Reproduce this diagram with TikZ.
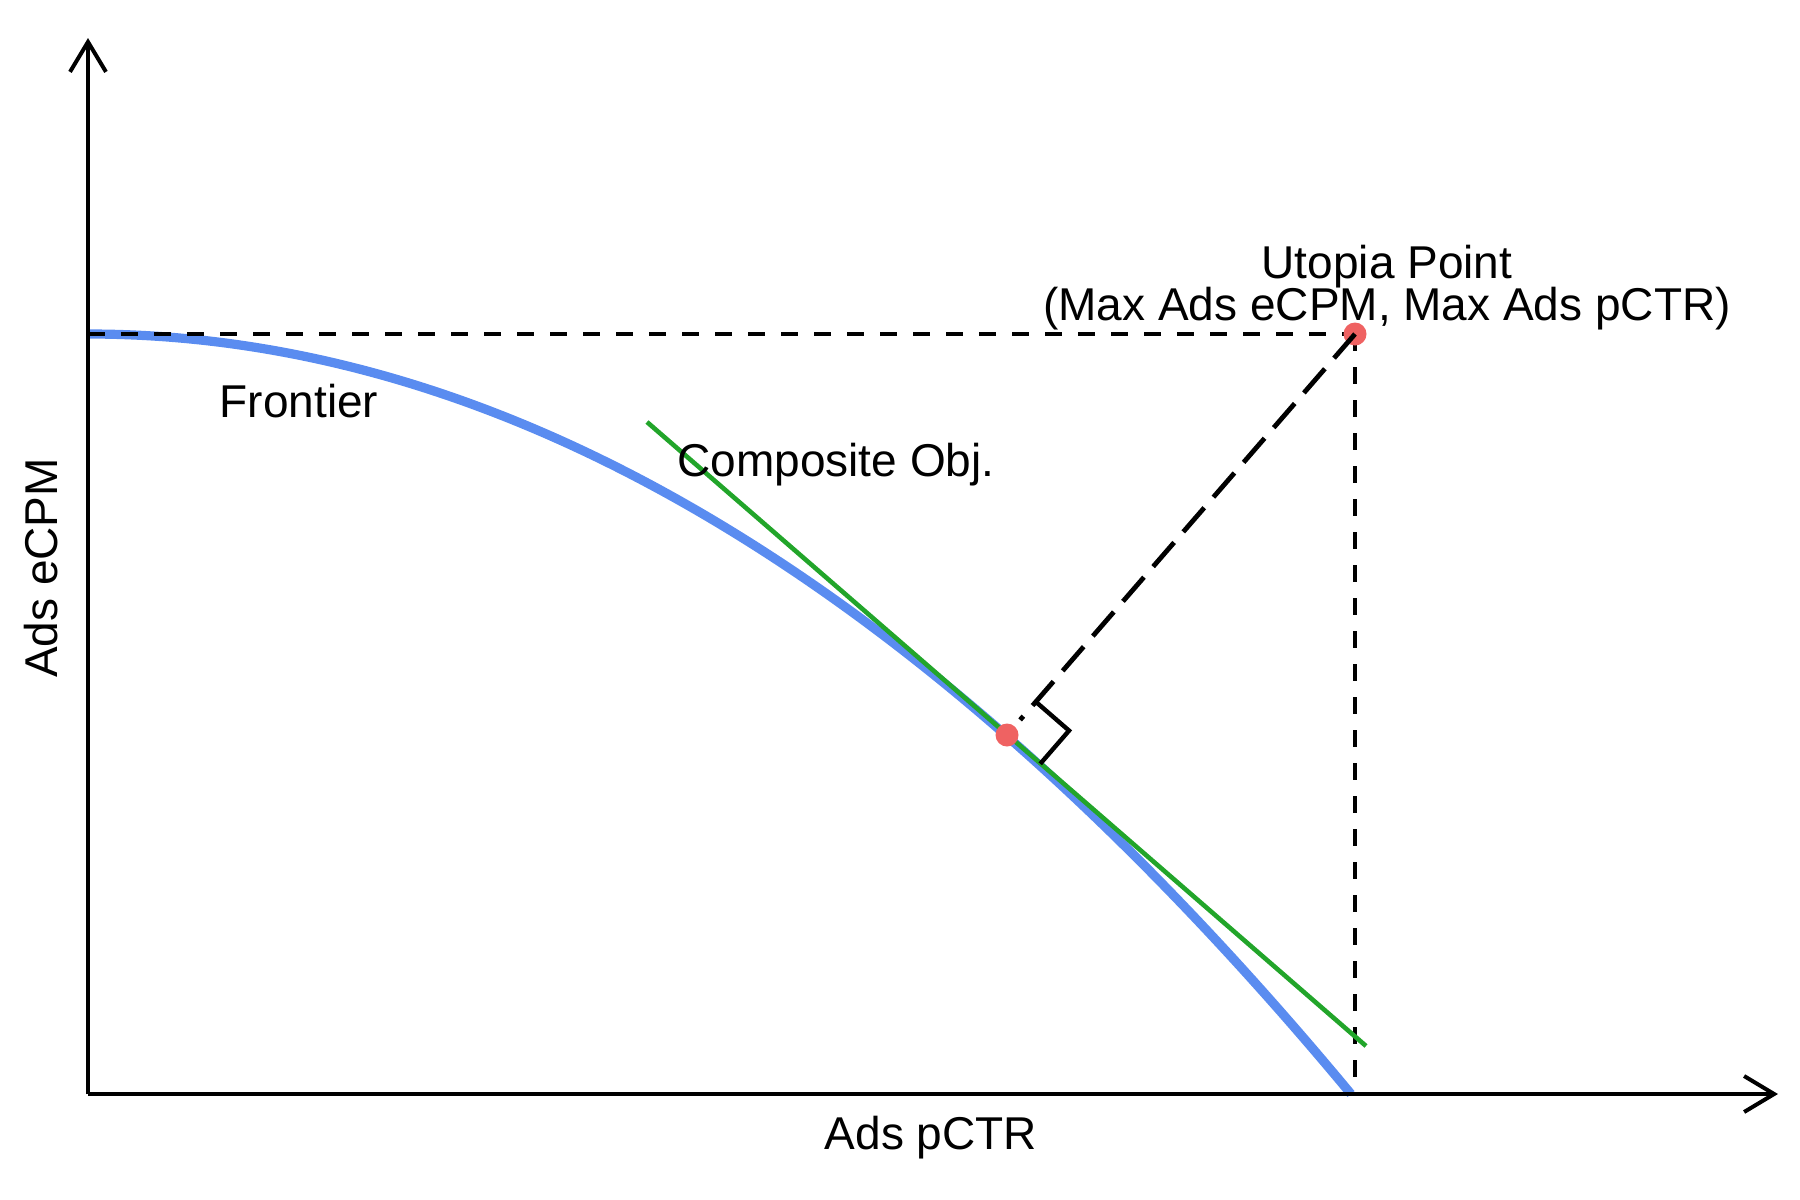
\documentclass[tikz,border=0pt]{standalone}
\usepackage{fontspec}
\setmainfont{Liberation Sans}
\usetikzlibrary{arrows.meta,calc}
\definecolor{frontblue}{HTML}{5A8CF0}
\definecolor{objgreen}{HTML}{22A52A}
\definecolor{ptred}{HTML}{EF6262}
\tikzset{
  axisline/.style={line width=2pt, -{Straight Barb[length=15pt,width=18pt,line width=2pt]}},
  guide/.style={line width=2pt, dash pattern=on 8.5pt off 8pt},
  perpdash/.style={line width=2.4pt, dash pattern=on 16pt off 7pt},
  lbl/.style={font=\fontsize{23}{27}\selectfont, inner sep=0pt},
  ptdot/.style={circle, fill=ptred, minimum size=11.5pt, inner sep=0pt},
}
\begin{document}
\begin{tikzpicture}[x=0.5pt,y=-0.5pt]
\useasboundingbox (0,0) rectangle (1800,1200);
% coordinates
\coordinate (O) at (88,1094);
\coordinate (Ytop) at (88,38);
\coordinate (Xend) at (1778,1094);
\coordinate (F0) at (88,334);
\coordinate (F1) at (1351,1094);
\coordinate (Ubase) at (1355,1094);
\coordinate (G1) at (647,422);
\coordinate (G2) at (1366,1046);
% frontier
\draw[frontblue, line width=4.6pt] (F0) .. controls (509,334) and (930,587) .. (F1);
% guides
\draw[guide] (F0) -- (1355,334);
\draw[guide] (1355,334) -- (Ubase);
% tangent line
\draw[objgreen, line width=2.3pt] (G1) -- (G2);
% points
\node[ptdot] (U) at (1355,334) {};
\node[ptdot] (T) at (1007,735) {};
% perpendicular dashed
\draw[perpdash] (U.center) -- ($(T.center)!10pt!(U.center)$);
% right angle marker
\draw[line width=2.2pt] ($(T.center)+(0.655*44,-0.755*44)$) -- ++(0.755*44,0.655*44) -- ++(-0.655*44,0.755*44);
% axes
\draw[axisline] (O) -- (Ytop);
\draw[axisline] (O) -- (Xend);
% labels
\node[lbl] (lu1) at (1387,267) {Utopia Point};
\node[lbl] (lu2) at (1387,309) {(Max Ads eCPM, Max Ads pCTR)};
\node[lbl] (lf) at (299,401) {Frontier};
\node[lbl] (lc) at (836,465) {Composite Obj.};
\node[lbl] (lx) at (931,1138) {Ads pCTR};
\node[lbl, rotate=90] (ly) at (41,568) {Ads eCPM};
\end{tikzpicture}
\end{document}
